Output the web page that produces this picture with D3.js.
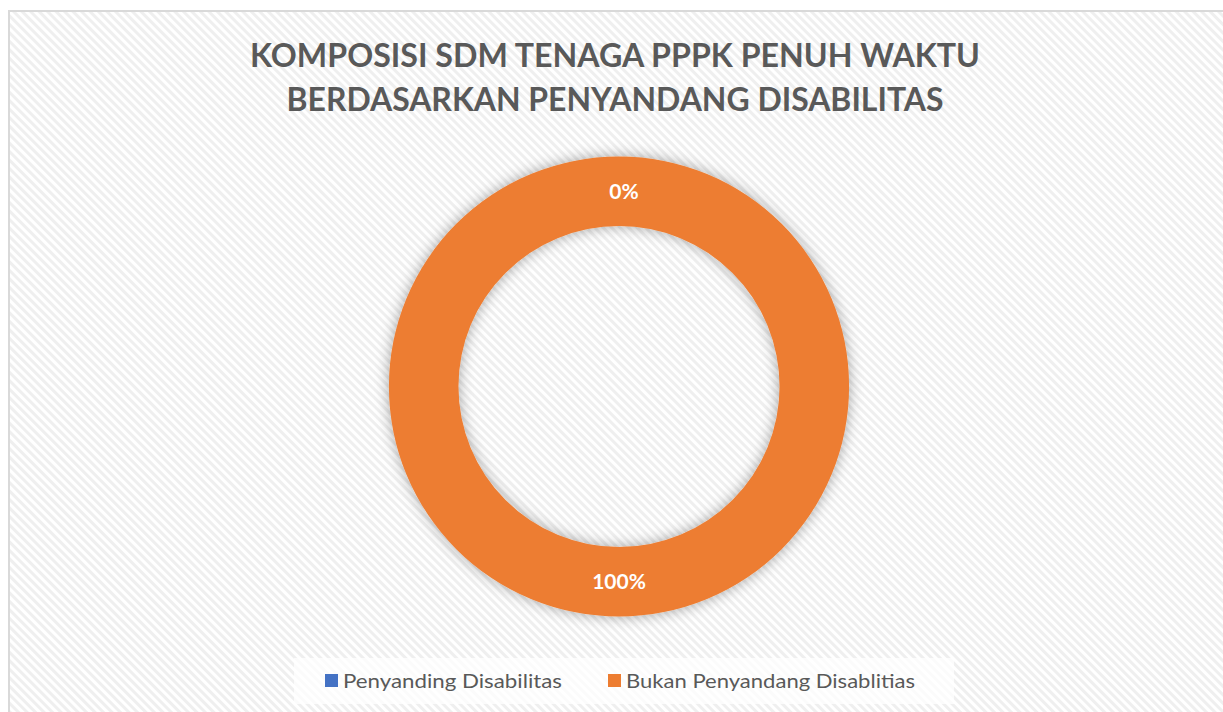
<!DOCTYPE html>
<html>
<head>
<meta charset="utf-8">
<script src="https://cdn.jsdelivr.net/npm/d3@7"></script>
<style>
    body { margin: 0; background: #fff; }
    svg { display: block; }
</style>
</head>
<body>
<div id="chart"></div>
<script>
    // Data
    const categories = ['Penyanding Disabilitas', 'Bukan Penyandang Disablitias'];
    const values = [0, 100];
    const colors = ['#4472C4', '#ED7D31'];
    const titleLines = ['KOMPOSISI SDM TENAGA PPPK PENUH WAKTU', 'BERDASARKAN PENYANDANG DISABILITAS'];

    const width = 1223;
    const height = 712;

    const svg = d3.select('#chart')
        .append('svg')
        .attr('width', width)
        .attr('height', height);

    const defs = svg.append('defs');

    // Striped chart background
    const pattern = defs.append('pattern')
        .attr('id', 'stripes')
        .attr('patternUnits', 'userSpaceOnUse')
        .attr('width', 6)
        .attr('height', 6)
        .attr('patternTransform', 'rotate(-45)');
    pattern.append('rect').attr('width', 6).attr('height', 6).attr('fill', '#ffffff');
    pattern.append('rect').attr('width', 3).attr('height', 6).attr('fill', '#efefef');

    // Soft shadow for the ring
    const shadow = defs.append('filter')
        .attr('id', 'shadow')
        .attr('x', '-20%').attr('y', '-20%')
        .attr('width', '140%').attr('height', '140%');
    shadow.append('feGaussianBlur').attr('in', 'SourceAlpha').attr('stdDeviation', 7).attr('result', 'blur');
    shadow.append('feFlood').attr('flood-color', '#000').attr('flood-opacity', 0.35);
    shadow.append('feComposite').attr('in2', 'blur').attr('operator', 'in').attr('result', 'sh');
    const merge = shadow.append('feMerge');
    merge.append('feMergeNode').attr('in', 'sh');
    merge.append('feMergeNode').attr('in', 'SourceGraphic');

    // Chart frame
    svg.append('rect')
        .attr('x', 9)
        .attr('y', 11)
        .attr('width', width)
        .attr('height', height)
        .attr('fill', 'url(#stripes)')
        .attr('stroke', '#d9d9d9')
        .attr('stroke-width', 2);

    // Title
    const titleWidths = [730, 657];
    const title = svg.append('g').attr('class', 'title');
    titleLines.forEach((line, i) => {
        title.append('text')
            .attr('x', 615)
            .attr('y', 67 + i * 44)
            .attr('text-anchor', 'middle')
            .attr('font-family', 'Lato, "Open Sans", sans-serif')
            .attr('font-weight', 'bold')
            .attr('font-size', 32)
            .attr('fill', '#595959')
            .attr('textLength', titleWidths[i])
            .attr('lengthAdjust', 'spacingAndGlyphs')
            .text(line);
    });

    // Donut
    const cx = 619, cy = 386.5;
    const outerR = 230, innerR = 160.5;

    const pie = d3.pie().sort(null).value(d => d);
    const arcs = pie(values);
    const total = d3.sum(values);

    const arc = d3.arc()
        .innerRadius(innerR)
        .outerRadius(outerR);

    const g = svg.append('g')
        .attr('transform', `translate(${cx}, ${cy})`);

    g.append('g')
        .attr('filter', 'url(#shadow)')
        .selectAll('path')
        .data(arcs)
        .enter()
        .append('path')
        .attr('d', arc)
        .attr('fill', (d, i) => colors[i]);

    g.selectAll('.label')
        .data(arcs)
        .enter()
        .append('text')
        .attr('class', 'label')
        .attr('transform', d => `translate(${arc.centroid(d)})`)
        .attr('dy', '0.35em')
        .attr('dx', (d, i) => i === 0 ? 5 : 0)
        .attr('text-anchor', 'middle')
        .attr('font-family', 'Lato, "Open Sans", sans-serif')
        .attr('font-weight', 'bold')
        .attr('font-size', 21)
        .attr('fill', '#ffffff')
        .text(d => d3.format('.0%')(d.data / total));

    // Legend
    svg.append('rect')
        .attr('x', 294)
        .attr('y', 658)
        .attr('width', 660)
        .attr('height', 46)
        .attr('fill', '#ffffff')
        .attr('opacity', 0.75);

    const legendX = [325, 608];
    const legend = svg.selectAll('.legend')
        .data(categories)
        .enter()
        .append('g')
        .attr('class', 'legend')
        .attr('transform', (d, i) => `translate(${legendX[i]}, 674)`);

    legend.append('rect')
        .attr('width', 13)
        .attr('height', 13)
        .attr('fill', (d, i) => colors[i]);

    const legendWidths = [219, 289];
    legend.append('text')
        .attr('x', 18)
        .attr('y', 14)
        .attr('font-family', 'Lato, "Open Sans", sans-serif')
        .attr('font-size', 20)
        .attr('fill', '#595959')
        .attr('textLength', (d, i) => legendWidths[i])
        .attr('lengthAdjust', 'spacingAndGlyphs')
        .text(d => d);
</script>
</body>
</html>
